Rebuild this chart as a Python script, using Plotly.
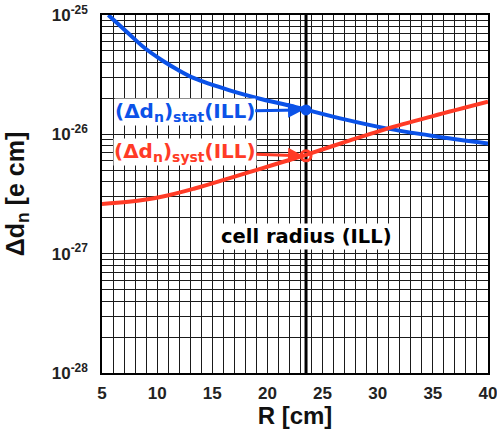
import math
import plotly.graph_objects as go

# ---- data ----
stat_R = [5.57, 7.38, 8.9, 10.4, 11.9, 13.4, 16.5, 19.5, 22.5, 23.5, 27, 30.66, 35, 40]
stat_d = [1.0e-25, 7.03e-26, 5.26e-26, 4.2e-26, 3.46e-26, 2.94e-26, 2.35e-26,
          1.97e-26, 1.70e-26, 1.61e-26, 1.334e-26, 1.127e-26, 9.70e-27, 8.39e-27]

syst_R = [5, 7.4, 10.4, 13.4, 16.5, 19.5, 22.5, 23.5, 27, 30.66, 35, 40]
syst_d = [2.61e-27, 2.72e-27, 3.0e-27, 3.52e-27, 4.28e-27, 5.19e-27, 6.30e-27,
          6.73e-27, 8.61e-27, 1.102e-26, 1.422e-26, 1.875e-26]

cell_radius = 23.5
stat_at_cell = 1.6e-26
syst_at_cell = 6.6e-27

x_ticks = list(range(5, 41))
x_labels = [str(v) if v % 5 == 0 else "" for v in x_ticks]

decades = [-28, -27, -26, -25]
y_ticks = []
y_labels = []
for k in decades:
    for m in range(1, 10):
        if k == -25 and m > 1:
            break
        y_ticks.append(m * 10.0 ** k)
        y_labels.append(f"10<sup>{k}</sup>" if m == 1 else "")

BLUE = "#0b52e8"
RED = "#ff3b26"
FONT = "Liberation Sans"
AFONT = "DejaVu Sans"
lg = math.log10

fig = go.Figure()

fig.add_trace(go.Scatter(x=[cell_radius, cell_radius], y=[1e-28, 1e-25], mode="lines",
                         line=dict(color="black", width=3), showlegend=False,
                         hoverinfo="skip"))
fig.add_trace(go.Scatter(x=stat_R, y=stat_d, mode="lines",
                         line=dict(color=BLUE, width=4, shape="spline", smoothing=1.0),
                         showlegend=False))
fig.add_trace(go.Scatter(x=syst_R, y=syst_d, mode="lines",
                         line=dict(color=RED, width=4, shape="spline", smoothing=1.0),
                         showlegend=False))
fig.add_trace(go.Scatter(x=[cell_radius], y=[stat_at_cell], mode="markers",
                         marker=dict(color=BLUE, size=11), showlegend=False))
fig.add_trace(go.Scatter(x=[cell_radius], y=[syst_at_cell], mode="markers",
                         marker=dict(symbol="circle-open", color=RED, size=10,
                                     line=dict(width=3, color=RED)),
                         showlegend=False))

fig.add_annotation(x=cell_radius, y=lg(stat_at_cell), xref="x", yref="y",
                   ax=12.5, ay=lg(1.54e-26), axref="x", ayref="y",
                   text="(Δd<sub>n</sub>)<sub>stat</sub>(ILL)", showarrow=True,
                   arrowhead=2, arrowsize=1, arrowwidth=3, arrowcolor=BLUE,
                   font=dict(family=AFONT, size=20, color=BLUE, weight="bold"),
                   bgcolor="white", borderpad=0, standoff=3)
fig.add_annotation(x=cell_radius, y=lg(syst_at_cell), xref="x", yref="y",
                   ax=12.5, ay=lg(7.1e-27), axref="x", ayref="y",
                   text="(Δd<sub>n</sub>)<sub>syst</sub>(ILL)", showarrow=True,
                   arrowhead=2, arrowsize=1, arrowwidth=3, arrowcolor=RED,
                   font=dict(family=AFONT, size=20, color=RED, weight="bold"),
                   bgcolor="white", borderpad=0, standoff=3)
fig.add_annotation(x=cell_radius, y=lg(1.38e-27), xref="x", yref="y", showarrow=False,
                   text="cell radius (ILL)", bgcolor="white", borderpad=1,
                   font=dict(family=AFONT, size=19.5, color="black", weight="bold"))

fig.update_xaxes(type="linear", range=[5, 40], tickvals=x_ticks, ticktext=x_labels,
                 showgrid=True, gridcolor="#1a1a1a", gridwidth=1, zeroline=False,
                 showline=True, mirror=True, linecolor="black", linewidth=1.5,
                 ticks="", ticklabelstandoff=4, automargin=False,
                 ticklabeloverflow="allow",
                 tickfont=dict(family=FONT, size=17, color="#222", weight="bold"),
                 title=dict(text="R [cm]", standoff=8,
                            font=dict(family=FONT, size=24, color="#111", weight="bold")))
fig.update_yaxes(type="log", range=[-28, -25], tickvals=y_ticks, ticktext=y_labels,
                 showgrid=True, gridcolor="#1a1a1a", gridwidth=1, zeroline=False,
                 showline=True, mirror=True, linecolor="black", linewidth=1.5,
                 ticks="", ticklabelstandoff=9, automargin=False,
                 ticklabeloverflow="allow",
                 tickfont=dict(family=FONT, size=17, color="#222", weight="bold"),
                 title=dict(text="Δd<sub>n</sub> [e cm]", standoff=20,
                            font=dict(family=FONT, size=25, color="#111", weight="bold")))

fig.update_layout(width=497, height=429, margin=dict(l=102, r=9, t=15, b=56),
                  plot_bgcolor="white", paper_bgcolor="white")

fig.write_html("out.html")
